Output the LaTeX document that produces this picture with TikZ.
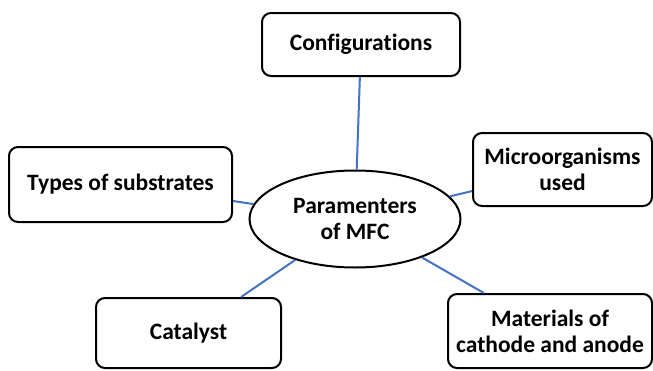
\documentclass[tikz,border=0pt]{standalone}
\usepackage{fontspec}
\setmainfont[Ligatures=NoCommon]{Carlito}
\usetikzlibrary{shapes.geometric}
\definecolor{linkblue}{HTML}{4472C4}

\begin{document}
\begin{tikzpicture}[
  x=1pt, y=-1pt,
  param/.style={draw, rounded corners=9pt, line width=2pt, align=center,
                font=\fontsize{23.5}{26}\selectfont\bfseries},
  hub/.style={draw, ellipse, line width=2pt, align=center, inner sep=0pt,
              minimum width=211pt, minimum height=97pt,
              font=\fontsize{23.5}{26}\selectfont\bfseries},
  link/.style={linkblue, line width=2pt}
]
  \useasboundingbox (0, 0) rectangle (653, 370);

  % Centre
  \node[hub] (mfc) at (355, 219) {Paramenters\\of MFC};

  % Parameters
  \node[param, minimum width=198pt, minimum height=63pt] (cfg) at (361, 44.5) {Configurations};
  \node[param, minimum width=179pt, minimum height=73pt] (micro) at (562.5, 169.5) {Microorganisms\\used};
  \node[param, minimum width=223pt, minimum height=75pt] (subs) at (120.5, 184.5) {Types of substrates};
  \node[param, minimum width=185pt, minimum height=70pt] (cat) at (188.5, 333) {Catalyst};
  \node[param, minimum width=204pt, minimum height=74pt] (mat) at (550, 331) {Materials of\\cathode and anode};

  % Links
  \draw[link] (cfg) -- (mfc);
  \draw[link] (micro) -- (mfc);
  \draw[link] (subs) -- (mfc);
  \draw[link] (cat) -- (mfc);
  \draw[link] (mat) -- (mfc);
\end{tikzpicture}
\end{document}
